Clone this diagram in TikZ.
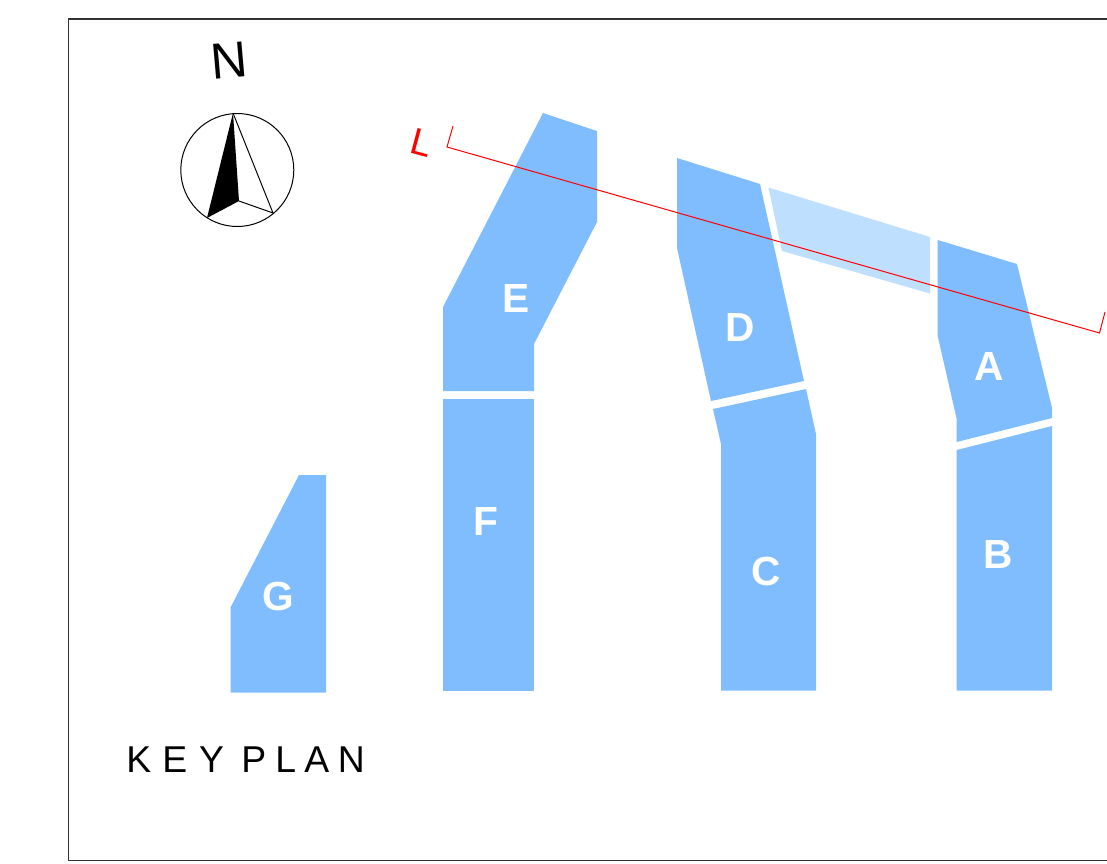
\documentclass[tikz,border=0pt]{standalone}
\usepackage{fontspec}
\setmainfont{Liberation Sans}
\definecolor{block}{HTML}{80BDFF}
\definecolor{blocklight}{HTML}{BFDFFF}
\definecolor{cutred}{HTML}{FF0000}
\tikzset{
  block/.style={fill=block,draw=none},
  lightblock/.style={fill=blocklight,draw=none},
  blocklabel/.style={text=white,font=\fontsize{30.5}{30}\selectfont\bfseries,inner sep=0pt},
  cutline/.style={draw=cutred,line width=0.75pt,line join=miter},
  framestyle/.style={draw=black!80,line width=0.8pt}
}
\begin{document}
\begin{tikzpicture}[x=0.75pt,y=-0.75pt]
\useasboundingbox (0,0) rectangle (1107,864);
\fill[white] (0,0) rectangle (1107,864);
\draw[framestyle] (1107,19) -- (68.9,19) -- (68.9,860.5) -- (1107,860.5);
% blocks
\path[block] (543,113) -- (597,131) -- (597,222) -- (534,344) -- (534,391) -- (443,391) -- (443,307) -- cycle;
\path[block] (443,399) -- (534,399) -- (534,691) -- (443,691) -- cycle;
\path[block] (299,475) -- (326,475) -- (326,692.5) -- (230.5,692.5) -- (230.5,607.5) -- cycle;
\path[block] (677,158) -- (760,184) -- (804,381) -- (711,401) -- (677,248) -- cycle;
\path[block] (713,409) -- (806,389) -- (816,434) -- (816,690.5) -- (721,690.5) -- (721,444) -- cycle;
\path[lightblock] (768.5,187.5) -- (930,237) -- (930,293.5) -- (782,251) -- cycle;
\path[block] (937.7,240) -- (1017,264) -- (1052,408) -- (1052,418) -- (956.7,442) -- (956.7,419) -- (937.7,336) -- cycle;
\path[block] (956.7,450) -- (1052,426) -- (1052,690.5) -- (956.7,690.5) -- cycle;
% labels
\node[blocklabel] (labelE) at (516,299) {E};
\node[blocklabel] (labelF) at (486,522) {F};
\node[blocklabel] (labelG) at (278,596) {G};
\node[blocklabel] (labelD) at (740,328) {D};
\node[blocklabel] (labelC) at (766,571.5) {C};
\node[blocklabel] (labelA) at (989.5,367) {A};
\node[blocklabel] (labelB) at (998,555) {B};
% section line
\coordinate (cutA) at (453,126);
\coordinate (cutB) at (447,147);
\coordinate (cutC) at (1099.5,333);
\coordinate (cutD) at (1105,312);
\draw[cutline] (cutA) -- (cutB) -- (cutC) -- (cutD);
\node[text=cutred,font=\fontsize{28}{28}\selectfont,rotate=-15,inner sep=0pt] (cutlabel) at (422,143) {L};
% north arrow
\coordinate (tip) at (233,113);
\coordinate (nl) at (207,218);
\coordinate (nc) at (239,201);
\coordinate (nr) at (273,213);
\draw[black,line width=0.75pt] (237.3,170) circle [radius=56.5];
\fill[black] (tip) -- (nl) -- (nc) -- cycle;
\draw[black,line width=0.75pt,line join=miter] (tip) -- (nr) -- (nc);
\node[font=\fontsize{38}{38}\selectfont,rotate=5,inner sep=0pt] (north) at (229.5,61) {N};
% title
\node[font=\fontsize{28}{28}\selectfont,inner sep=0pt,anchor=west] (title) at (126,760) {K\hspace{0.30em}E\hspace{0.32em}Y\hspace{0.46em}P\hspace{0.245em}L\hspace{0.22em}A\hspace{0.235em}N};
\end{tikzpicture}
\end{document}
